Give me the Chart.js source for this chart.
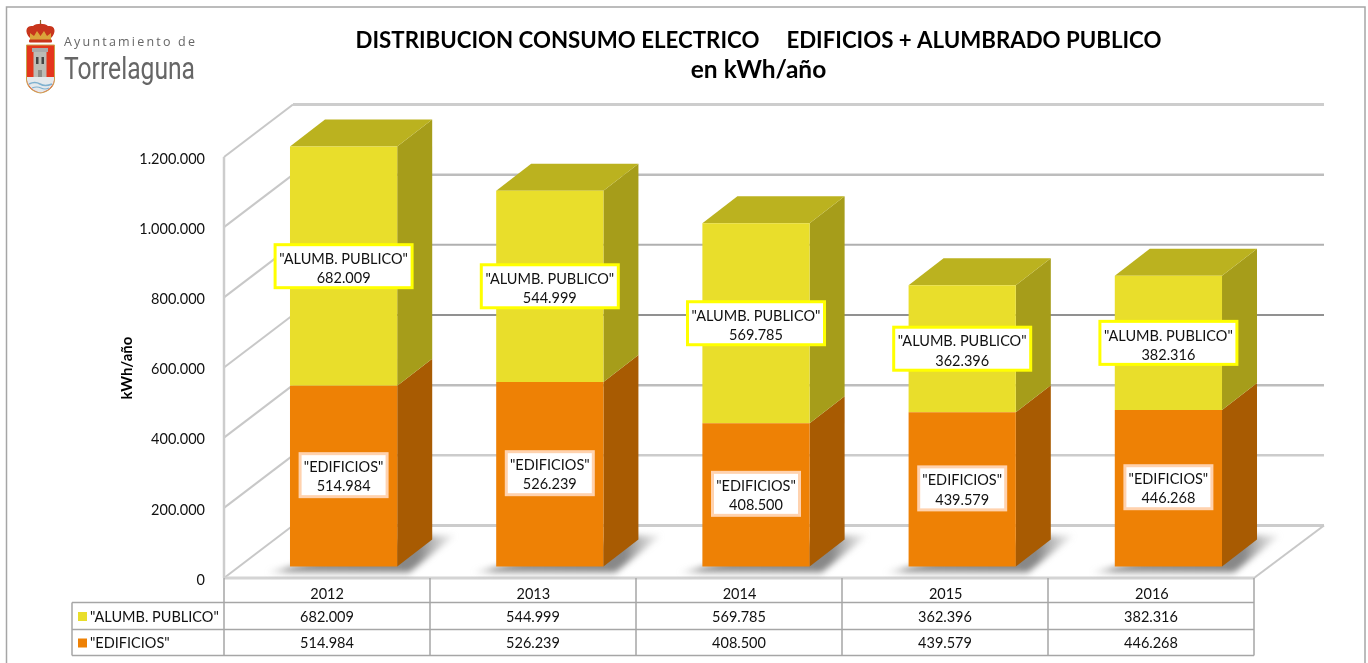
<!DOCTYPE html>
<html lang="es">
<head>
<meta charset="utf-8">
<title>Distribución consumo eléctrico</title>
<script src="https://cdn.jsdelivr.net/npm/chart.js@4"></script>
<style>
html,body{margin:0;padding:0;background:#fff;width:1368px;height:663px;overflow:hidden}
#wrap{position:relative;width:1368px;height:663px}
#logo{position:absolute;left:0;top:0}
</style>
</head>
<body>
<div id="wrap">
<canvas id="c" width="1368" height="663"></canvas>
<svg id="logo" width="210" height="100" viewBox="0 0 210 100" xmlns="http://www.w3.org/2000/svg">
  <defs><filter id="soft"><feGaussianBlur stdDeviation="0.45"/></filter></defs>
  <g filter="url(#soft)">
    <path d="M40.500 20 L40.500 25" stroke="#8a6a2a" stroke-width="1.200"/>
    <path d="M30 38 C24 32 26 25 33 26 C36 23 45 23 48 26 C55 25 57 32 51 38 Z" fill="#c8351c"/>
    <path d="M30 33 L34 36 L37 31 L40.500 36 L44 31 L47 36 L51 33 L51 41 L30 41 Z" fill="#dba43a"/>
    <rect x="29" y="39.500" width="23" height="3" rx="1" fill="#c8351c"/>
    <path d="M26.500 45 L54.500 45 L54.500 79 C54.500 87 48 92 40.500 93 C33 92 26.500 87 26.500 79 Z" fill="#e5361c" stroke="#c8a24a" stroke-width="1"/>
    <rect x="32" y="48" width="16" height="4" fill="#aaa"/>
    <rect x="33.500" y="52" width="13" height="27" fill="#bcbcb6"/>
    <rect x="36" y="57" width="2.500" height="7" fill="#444"/>
    <rect x="41.500" y="57" width="2.500" height="7" fill="#444"/>
    <rect x="38" y="70" width="4" height="9" fill="#8d8d88"/>
    <path d="M27 77 L54 77 L54 80 C53 87 47 91.500 40.500 92.500 C34 91.500 28 87 27 80 Z" fill="#e4e9ec"/>
    <path d="M29 84 Q35 81 40 84 T52 84" fill="none" stroke="#7fb1cf" stroke-width="1.500"/>
    <path d="M32 88 Q37 86 41 88 T49 88" fill="none" stroke="#7fb1cf" stroke-width="1.200"/>
  </g>
  <text x="64" y="46" font-family="Open Sans" font-size="12.500" fill="#666" textLength="131" lengthAdjust="spacing">Ayuntamiento de</text>
  <text x="64" y="78.500" font-family="Roboto" font-size="32" fill="#666" textLength="131" lengthAdjust="spacingAndGlyphs">Torrelaguna</text>
</svg>
</div>
<script>
const titleText = 'DISTRIBUCION CONSUMO ELECTRICO     EDIFICIOS + ALUMBRADO PUBLICO';
const subtitleText = 'en kWh/año';
const yAxisTitle = 'kWh/año';
const categories = ['2012', '2013', '2014', '2015', '2016'];
const seriesEdificiosName = '"EDIFICIOS"';
const seriesAlumbradoName = '"ALUMB. PUBLICO"';
const seriesEdificios = [514984, 526239, 408500, 439579, 446268];
const seriesAlumbrado = [682009, 544999, 569785, 362396, 382316];

const FONT = 'Lato, Carlito, Calibri, sans-serif';
const fmt = v => String(Math.round(v)).replace(/\B(?=(\d{3})+(?!\d))/g, '.');

/* perspective used for the pseudo 3D look */
const floorDX = 16.5, floorDY = 11.5;   // bar plane -> front edge of the floor
const wallDX = 70, wallDY = 52.5;       // front edge -> back wall
const depthDX = 35, depthDY = 27;       // depth of the bars
const wallLine = {0:['#CCCCCC',3], 200000:['#CCCCCC',2.5], 400000:['#BDBDBD',2.5], 600000:['#919191',2], 800000:['#B0B0B0',2], 1000000:['#BDBDBD',2.5], 1200000:['#CDCDCD',3]};

const faces = {
  edificios: {front:'#EE8105', side:'#A85B02', top:'#BE6A04', box:'#FFD2AE'},
  alumbrado: {front:'#E9DE2B', side:'#A69D1A', top:'#BBB21F', box:'#FFFF00'}
};

function poly(ctx, pts, fill){
  ctx.beginPath();
  pts.forEach((p,i)=> i ? ctx.lineTo(p[0],p[1]) : ctx.moveTo(p[0],p[1]));
  ctx.closePath();
  ctx.fillStyle = fill;
  ctx.fill();
}
function line(ctx, pts, color, w){
  ctx.beginPath();
  pts.forEach((p,i)=> i ? ctx.lineTo(p[0],p[1]) : ctx.moveTo(p[0],p[1]));
  ctx.strokeStyle = color;
  ctx.lineWidth = w;
  ctx.stroke();
}
function frameX(chart){
  const x = chart.scales.x;
  const L = x.getPixelForValue(0) - (x.getPixelForValue(1) - x.getPixelForValue(0))/2 - floorDX;
  const R = 2*(x.getPixelForValue(categories.length-1) - floorDX) - (x.getPixelForValue(categories.length-2) - floorDX) - ((x.getPixelForValue(1)-x.getPixelForValue(0))/2) - 1;
  return {L, R, step:(R-L)/categories.length};
}

const scene = {
  id: 'scene',
  afterLayout(chart){
    // centre the titles over the plot, and the axis title on the drawn wall
    chart.boxes.forEach(b => {
      if (b.options && (b.options.text === titleText || b.options.text === subtitleText)) {
        b.left = 158; b.right = 1359;
      }
    });
    chart.scales.y.top += 24;
  },
  beforeDraw(chart){
    const ctx = chart.ctx;
    ctx.save();
    ctx.fillStyle = '#fff';
    ctx.fillRect(0,0,chart.width,chart.height);
    line(ctx, [[6.5,663],[6.5,7],[1365,7],[1365,663]], '#A6A6A6', 1.5);
    ctx.restore();
  },
  beforeDatasetsDraw(chart){
    const ctx = chart.ctx, y = chart.scales.y;
    const {L, R} = frameX(chart);
    const base = y.getPixelForValue(0) + floorDY;
    ctx.save();
    y.ticks.forEach(tk => {
      const py = y.getPixelForValue(tk.value) + floorDY;
      const st = wallLine[tk.value];
      line(ctx, [[L,py],[L+wallDX-1,py-wallDY]], '#C8C8C8', 2);
      line(ctx, [[L+wallDX-1,py-wallDY],[R+wallDX,py-wallDY]], st[0], st[1]);
    });
    line(ctx, [[R+wallDX,base-wallDY],[R,base]], '#C8C8C8', 2);
    line(ctx, [[L,base],[R,base]], '#D4D4D4', 3);
    line(ctx, [[L,y.getPixelForValue(1200000)+floorDY],[L,base]], '#CDCDCD', 2.5);
    // bar shadows on the floor
    const m0 = chart.getDatasetMeta(0);
    ctx.save();
    ctx.filter = 'blur(3px)';
    m0.data.forEach(b => {
      const l = b.x - b.width/2, r = b.x + b.width/2, bs = b.base;
      const g = ctx.createLinearGradient(l-28, 0, r+60, 0);
      g.addColorStop(0, 'rgba(120,120,120,0)');
      g.addColorStop(0.14, 'rgba(105,105,105,0.7)');
      g.addColorStop(0.8, 'rgba(95,95,95,0.75)');
      g.addColorStop(1, 'rgba(140,140,140,0.05)');
      poly(ctx, [[l-24,bs+6],[r+12,bs+6],[r+58,bs-31],[r+30,bs-31]], g);
    });
    ctx.restore();
    // side and top faces of the bars
    chart.data.datasets.forEach((ds,i) => {
      const meta = chart.getDatasetMeta(i), f = faces[ds.key];
      meta.data.forEach(b => {
        const l = b.x - b.width/2, r = b.x + b.width/2;
        poly(ctx, [[r,b.base],[r+depthDX,b.base-depthDY],[r+depthDX,b.y-depthDY],[r,b.y]], f.side);
        if (i === chart.data.datasets.length-1)
          poly(ctx, [[l,b.y],[l+depthDX,b.y-depthDY],[r+depthDX,b.y-depthDY],[r,b.y]], f.top);
      });
    });
    ctx.restore();
  },
  afterDatasetsDraw(chart){
    const ctx = chart.ctx;
    ctx.save();
    // value boxes on the front face of the bars
    chart.data.datasets.forEach((ds,i) => {
      const meta = chart.getDatasetMeta(i), f = faces[ds.key];
      const w = ds.key === 'alumbrado' ? 137 : 87;
      meta.data.forEach((b,j) => {
        const cy = (b.y + b.base)/2 - (ds.key==='alumbrado' ? 0 : 1);
        const ty = ds.key === 'alumbrado' ? 1.5 : 0.5;
        ctx.fillStyle = '#fff';
        ctx.fillRect(b.x-w/2, cy-21.5, w, 43);
        ctx.strokeStyle = f.box; ctx.lineWidth = 3;
        ctx.strokeRect(b.x-w/2, cy-21.5, w, 43);
        ctx.fillStyle = '#111';
        ctx.textAlign = 'center'; ctx.textBaseline = 'middle';
        ctx.font = '14.5px ' + FONT;
        ctx.fillText(ds.label, b.x, cy-8.5+ty);
        ctx.fillText(fmt(ds.data[j]), b.x, cy+11+ty);
      });
    });
    // data table
    const y = chart.scales.y;
    const {L, R, step} = frameX(chart);
    const top = y.getPixelForValue(0) + floorDY;
    const r1 = 602.5, r2 = 629.5, r3 = 655.5, hdr = 72;
    const grid = '#A6A6A6';
    categories.forEach((c,i) => line(ctx, [[L+step*i,top],[L+step*i,r3]], grid, 1.5));
    line(ctx, [[R,top],[R,r3]], grid, 1.5);
    [r1,r2,r3].forEach(r => line(ctx, [[hdr,r],[R,r]], grid, 1.5));
    line(ctx, [[hdr,r1],[hdr,r3]], grid, 1.5);
    const rows = [chart.data.datasets[1], chart.data.datasets[0]];
    rows.forEach((ds,k) => {
      const cy = k ? (r2+r3)/2+1 : (r1+r2)/2+1;
      ctx.fillStyle = faces[ds.key].front;
      ctx.fillRect(78, cy-5, 9, 9);
      ctx.fillStyle = '#111';
      ctx.font = '14.5px ' + FONT;
      ctx.textBaseline = 'middle'; ctx.textAlign = 'left';
      ctx.fillText(ds.label, 90, cy);
      ctx.textAlign = 'center';
      ds.data.forEach((v,j) => ctx.fillText(fmt(v), L + step*(j+0.5), cy));
    });
    ctx.restore();
  }
};

const barOpts = {stack:'s', barPercentage:0.52, categoryPercentage:1, borderSkipped:false, clip:false};

new Chart(document.getElementById('c'), {
  type: 'bar',
  data: {
    labels: categories,
    datasets: [
      {key:'edificios', label: seriesEdificiosName, data: seriesEdificios, backgroundColor: faces.edificios.front, ...barOpts},
      {key:'alumbrado', label: seriesAlumbradoName, data: seriesAlumbrado, backgroundColor: faces.alumbrado.front, ...barOpts}
    ]
  },
  plugins: [scene],
  options: {
    responsive: false,
    animation: false,
    devicePixelRatio: 1,
    layout: {padding: {left: 118, right: 96.5, top: 0, bottom: 0}},
    plugins: {
      legend: {display: false},
      tooltip: {enabled: false},
      title: {
        display: true,
        text: titleText,
        color: '#000',
        font: {family: FONT, size: 22.25, weight: 'bold', lineHeight: 1.2},
        padding: {top: 27, bottom: 0}
      },
      subtitle: {
        display: true,
        text: subtitleText,
        color: '#000',
        font: {family: FONT, size: 24.5, weight: 'bold', lineHeight: 1.2},
        padding: {top: 1.6, bottom: 60.8}
      }
    },
    scales: {
      x: {
        stacked: true,
        grid: {display: false, drawTicks: false},
        border: {display: false},
        afterFit(s){ s.height = 96.5; },
        ticks: {color:'#111', font:{family:FONT, size:14.5}, padding: 19, labelOffset: -floorDX, maxRotation:0, autoSkip:false}
      },
      y: {
        stacked: true,
        min: 0, max: 1200000,
        grid: {display: false, drawTicks: false},
        border: {display: false},
        afterFit(s){ s.width = 122.5; },
        title: {display:true, text: yAxisTitle, color:'#000', padding:{top:0,bottom:0}, font:{family:FONT, size:15, weight:'bold', lineHeight:1.2}},
        ticks: {stepSize:200000, color:'#111', font:{family:FONT, size:14.5}, padding: 35.5, labelOffset: 13.5, callback: v => fmt(v)}
      }
    }
  }
});
</script>
</body>
</html>
